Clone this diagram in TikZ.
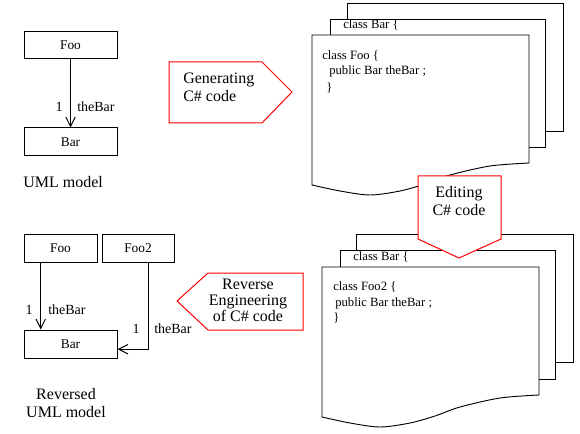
\documentclass[tikz,border=0pt]{standalone}
\usepackage{fontspec}
\setmainfont{Liberation Serif}
\usetikzlibrary{arrows.meta,calc}
\begin{document}
\begin{tikzpicture}[x=0.75pt,y=-0.75pt,
  page/.style={draw, fill=white, line width=0.7pt},
  flow/.style={draw=red, fill=white, line width=0.75pt},
  uml/.style={line width=0.75pt, -{Straight Barb[length=7pt,width=7pt,line width=0.75pt]}},
  box/.style={draw, line width=0.75pt, inner sep=0pt, font=\fontsize{10}{12}\selectfont},
  lbl/.style={font=\fontsize{10.5}{12}\selectfont, inner sep=0pt},
  code/.style={font=\fontsize{9.5}{11.5}\selectfont, inner sep=0pt, anchor=west},
  captxt/.style={font=\fontsize{12}{14}\selectfont, inner sep=0pt, align=center},
  flowtxt/.style={font=\fontsize{12}{13.5}\selectfont, inner sep=0pt}]
\useasboundingbox (0,0) rectangle (580,434);

% ---------- top UML model ----------
\node[box, minimum width=93*0.75pt, minimum height=27*0.75pt] (foo) at (70.5,45.5) {Foo};
\node[box, minimum width=93*0.75pt, minimum height=28*0.75pt] (bar) at (70.5,142) {Bar};
\draw[uml] (foo.south) -- (bar.north);
\node[lbl] (one1) at (59,107) {1};
\node[lbl, anchor=west] (role1) at (77,107) {theBar};
\node[captxt, anchor=west] (uml1) at (23,182) {UML model};

% ---------- top code stack ----------
\draw[page] (347,3) rectangle (563,131);
\draw[page] (330,19) rectangle (545,147);
\draw[page] (312,35) -- (529,35) -- (529,163) -- plot[smooth] coordinates
  {(529,163) (490,166) (450,175) (425,184) (400,191) (370,195) (340,191) (312,185)} -- cycle;
\node[code] (tbar) at (343,25) {class Bar \{};
\node[code] (tfoo1) at (322,56) {class Foo \{};
\node[code] (tfoo2) at (329,71) {public Bar theBar ;};
\node[code] (tfoo3) at (326,88) {\}};

% ---------- bottom code stack ----------
\draw[page] (356,234) rectangle (573,362);
\draw[page] (340,250) rectangle (555,379);
\begin{scope}[shift={(10,232)}]
\draw[page] (312,35) -- (529,35) -- (529,163) -- plot[smooth] coordinates
  {(529,163) (490,166) (450,175) (425,184) (400,191) (370,195) (340,191) (312,185)} -- cycle;
\end{scope}
\node[code] (bbart) at (353,257) {class Bar \{};
\node[code] (bfoo1) at (333,287) {class Foo2 \{};
\node[code] (bfoo2) at (335,303) {public Bar theBar ;};
\node[code] (bfoo3) at (333,318) {\}};

% ---------- red process arrows ----------
\draw[flow] (169,62) -- (262,62) -- (292,92) -- (262,123) -- (169,123) -- cycle;
\node[flowtxt, anchor=west, align=left] (gen) at (183,87) {Generating\\C\# code};

\draw[flow] (418,176) -- (501,176) -- (501,239) -- (459,258) -- (418,239) -- cycle;
\node[flowtxt, align=center] (edit) at (459,201) {Editing\\C\# code};

\draw[flow] (303,273) -- (208,273) -- (177,301) -- (208,330) -- (303,330) -- cycle;
\node[flowtxt, align=center, font=\fontsize{12}{12}\selectfont] (rev) at (248,300) {Reverse\\Engineering\\of C\# code};

% ---------- bottom UML model ----------
\node[box, minimum width=73*0.75pt, minimum height=28*0.75pt] (bfoo) at (60.5,248) {Foo};
\node[box, minimum width=72*0.75pt, minimum height=28*0.75pt] (bfoob) at (138,248) {Foo2};
\node[box, minimum width=93*0.75pt, minimum height=28*0.75pt] (bbar) at (70.5,344) {Bar};
\coordinate (s1) at ($(bfoo.south west)!0.233!(bfoo.south east)$);
\draw[uml] (s1) -- (s1 |- bbar.north);
\coordinate (s2) at ($(bfoob.south west)!0.64!(bfoob.south east)$);
\coordinate (e2) at ($(bbar.north east)!0.68!(bbar.south east)$);
\draw[uml] (s2) |- (e2);
\node[lbl] (one2) at (29,310) {1};
\node[lbl, anchor=west] (role2) at (48,310) {theBar};
\node[lbl] (one3) at (136,329) {1};
\node[lbl, anchor=west] (role3) at (154,329) {theBar};
\node[captxt, font=\fontsize{12}{14}\selectfont] (uml2) at (66,403) {Reversed\\UML model};
\end{tikzpicture}
\end{document}
